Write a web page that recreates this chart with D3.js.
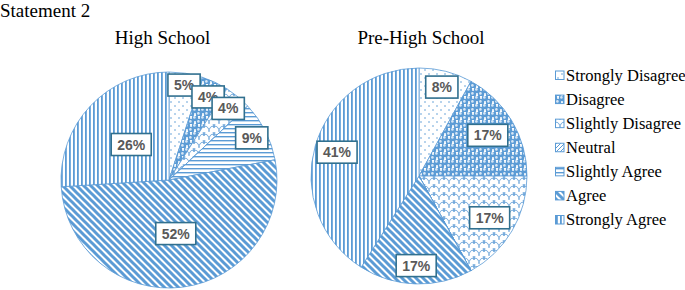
<!DOCTYPE html>
<html><head><meta charset="utf-8">
<script src="https://cdn.jsdelivr.net/npm/d3@7"></script>
<style>body{margin:0;background:#fff}svg{display:block}</style>
</head><body>
<svg id="c" width="685" height="290"></svg>
<script>
const categories = ["Strongly Disagree","Disagree","Slightly Disagree","Neutral","Slightly Agree","Agree","Strongly Agree"];
const highSchool = [5,4,4,0,9,52,26];
const preHighSchool = [8,17,17,0,0,17,41];
const chartTitles = ["High School","Pre-High School"];
const mainTitle = "Statement 2";
// label radial offsets (fraction of radius) per slice, layout only
const hsLabelR = [0.89,0.85,0.86,0.8,0.86,0.5,0.48];
const phLabelR = [0.85,0.74,0.76,0.8,0.8,0.83,0.79];

const blue = "#5B9BD5";
const serif = "Liberation Serif, Times New Roman, serif";
const svg = d3.select("#c");
const defs = svg.append("defs");
function pat(id,w,h,draw){const p=defs.append("pattern").attr("id",id).attr("patternUnits","userSpaceOnUse").attr("width",w).attr("height",h);p.append("rect").attr("width",w).attr("height",h).attr("fill","#fff");draw(p);}
// 0 dots
pat("p0",8,8,p=>{p.append("circle").attr("cx",2).attr("cy",2).attr("r",0.8).attr("fill",blue);p.append("circle").attr("cx",6).attr("cy",6).attr("r",0.8).attr("fill",blue);});
// 1 spheres
pat("p1",8,8,p=>{
  [[2,2],[6,6],[-2,6],[10,2]].forEach(([x,y])=>{p.append("circle").attr("cx",x).attr("cy",y).attr("r",3.2).attr("fill",blue);p.append("circle").attr("cx",x-0.6).attr("cy",y-0.6).attr("r",1.3).attr("fill","#d6e6f5");});
});
// 2 scallop
pat("p2",10,8,p=>{p.append("path").attr("d","M0,8 Q0,2 5,2 Q10,2 10,8 M-5,4 Q-5,-2 0,-2 Q5,-2 5,4 M5,4 Q5,-2 10,-2 Q15,-2 15,4").attr("fill","none").attr("stroke",blue).attr("stroke-width",0.9);});
// 3 neutral - small diagonal
pat("p3",4,4,p=>{p.append("path").attr("d","M0,4 L4,0 M-1,1 L1,-1 M3,5 L5,3").attr("stroke",blue).attr("stroke-width",1);});
// 4 horizontal
pat("p4",4,4,p=>{p.append("rect").attr("x",0).attr("y",0).attr("width",4).attr("height",1.4).attr("fill",blue);});
// 5 wide downward diagonal
pat("p5",7,7,p=>{p.append("path").attr("d","M0,0 L7,7 M-7,0 L0,7 M0,-7 L7,0 M7,0 L14,7 M0,7 L7,14").attr("stroke",blue).attr("stroke-width",3);});
// 6 vertical
pat("p6",4,4,p=>{p.append("rect").attr("x",0).attr("y",0).attr("width",1.8).attr("height",4).attr("fill",blue);});

svg.append("text").attr("x",0).attr("y",17).attr("font-family",serif).attr("font-size",19).attr("fill","#000").text(mainTitle);

const pie = d3.pie().sort(null).value(d=>d);
const R = 108;
const arc = d3.arc().innerRadius(0).outerRadius(R);
const charts = [
  {data:highSchool, cx:169, cy:180, tx:162.5, lr:hsLabelR, title:chartTitles[0]},
  {data:preHighSchool, cx:419, cy:176, tx:421, lr:phLabelR, title:chartTitles[1]}
];
charts.forEach(ch=>{
  svg.append("text").attr("x",ch.tx).attr("y",44).attr("text-anchor","middle").attr("font-family",serif).attr("font-size",19).attr("fill","#000").text(ch.title);
  const g = svg.append("g").attr("transform",`translate(${ch.cx},${ch.cy})`);
  const arcs = pie(ch.data);
  g.selectAll("path").data(arcs).join("path").attr("d",arc).attr("fill",(d,i)=>`url(#p${i})`).attr("stroke",blue).attr("stroke-width",0.8);
  const lg = g.selectAll("g.lab").data(arcs.filter(d=>d.value>0)).join("g").attr("class","lab")
    .attr("transform",d=>{const a=(d.startAngle+d.endAngle)/2; const r=R*ch.lr[d.index]; return `translate(${r*Math.sin(a)},${-r*Math.cos(a)})`;});
  lg.each(function(d){
    const s=d3.select(this);
    const t=s.append("text").attr("text-anchor","middle").attr("dy","0.36em").attr("font-family","Liberation Sans, Arial, sans-serif").attr("font-weight","bold").attr("font-size",14).attr("fill","#595959").text(d.value+"%");
    const w=t.node().getComputedTextLength()+12;
    s.insert("rect","text").attr("x",-w/2).attr("y",-11).attr("width",w).attr("height",22).attr("fill","#fff").attr("stroke","#31708f").attr("stroke-width",1.6);
  });
});

const leg = svg.append("g");
const ly = d3.scalePoint().domain(categories).range([75,219.5]);
categories.forEach((c,i)=>{
  const y=ly(c);
  leg.append("rect").attr("x",555.5).attr("y",y-4).attr("width",8.5).attr("height",8.5).attr("fill",`url(#p${i})`).attr("stroke",blue).attr("stroke-width",1);
  leg.append("text").attr("x",566).attr("y",y+5.5).attr("font-family",serif).attr("font-size",16.5).attr("fill","#000").text(c);
});
</script>
</body></html>
